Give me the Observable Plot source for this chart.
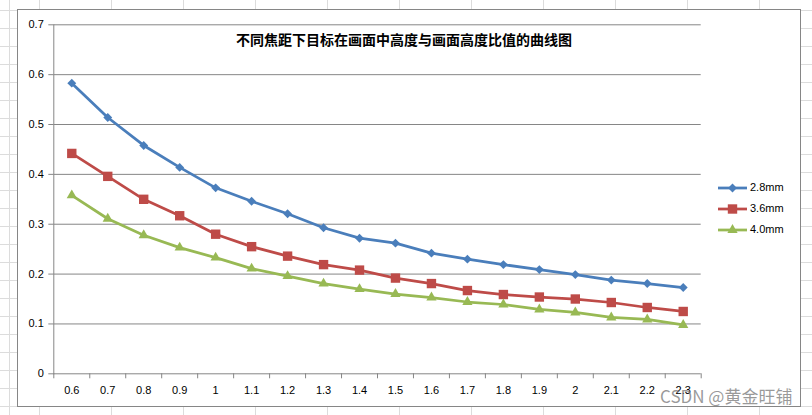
<!DOCTYPE html>
<html><head><meta charset="utf-8">
<script src="https://cdn.jsdelivr.net/npm/d3@7"></script>
<script src="https://cdn.jsdelivr.net/npm/@observablehq/plot@0.6"></script>
<style>
html,body{margin:0;padding:0;}
body{width:812px;height:415px;position:relative;overflow:hidden;background-color:#fff;
background-image:linear-gradient(to right,#dcdcdc 1px,transparent 1px),linear-gradient(to bottom,#dcdcdc 1px,transparent 1px);
background-size:72px 100%,100% 18px;background-position:39px 0,0 10px;}
#vline{position:absolute;left:9px;top:0;width:1px;height:415px;background:#dcdcdc}
#chart{position:absolute;left:17px;top:9px;width:784px;height:398px;box-sizing:border-box;border:1px solid #868686;background:#fff;}
#plot{position:absolute;left:0;top:0}
#title{position:absolute;left:204px;width:400px;top:31px;text-align:center;font:bold 14px/16px "Noto Sans CJK SC",sans-serif;color:#000;}
#legend{position:absolute;left:717px;top:177px;font:11px/21px "Liberation Sans",Arial,sans-serif;color:#000}
.lrow{height:21px;display:flex;align-items:center}
.lrow svg{display:block;margin-right:2px}
#wm{position:absolute;left:660px;top:386px;font:17px/20px "Noto Sans CJK SC",sans-serif;color:rgba(120,120,120,0.75);white-space:nowrap}
</style></head>
<body>
<div id="vline"></div>
<div id="chart"><div id="plot"></div></div>
<div id="title">不同焦距下目标在画面中高度与画面高度比值的曲线图</div>
<div id="legend"></div>
<div id="wm">CSDN @黄金旺铺</div>
<script>
const categories = ["0.6","0.7","0.8","0.9","1","1.1","1.2","1.3","1.4","1.5","1.6","1.7","1.8","1.9","2","2.1","2.2","2.3"];
const seriesNames = ["2.8mm","3.6mm","4.0mm"];
const s28 = [0.583,0.514,0.458,0.414,0.373,0.346,0.321,0.293,0.272,0.262,0.242,0.230,0.219,0.209,0.199,0.188,0.181,0.173];
const s36 = [0.442,0.396,0.350,0.317,0.280,0.255,0.236,0.219,0.208,0.192,0.181,0.167,0.159,0.154,0.150,0.143,0.133,0.125];
const s40 = [0.358,0.311,0.278,0.253,0.233,0.211,0.196,0.181,0.170,0.160,0.153,0.144,0.139,0.129,0.123,0.113,0.109,0.098];
const yTicks = [0,0.1,0.2,0.3,0.4,0.5,0.6,0.7];

const seriesValues = [s28, s36, s40];
const colors = ["#4A7EBB","#BE4B48","#98B954"];
const symbols = ["diamond2","square","triangle"];
const radii = [4, 5.3, 3.8];
const n = categories.length;
const idx = d3.range(n);
const boundaries = d3.range(n + 1).map(i => i - 0.5);

const W = 782, H = 396;
const marks = [
  Plot.gridY(yTicks, {stroke: "#868686", strokeOpacity: 1}),
  Plot.frame({anchor: "left", stroke: "#868686"}),
  Plot.axisY({ticks: yTicks, tickSize: 5, tickPadding: 5, stroke: "#868686", fill: "#000", label: null, tickFormat: d => String(d)}),
  Plot.axisX({ticks: boundaries, tickSize: 5, stroke: "#868686", label: null, tickFormat: () => ""}),
  Plot.axisX({ticks: idx, tickSize: 0, tickPadding: 12, fill: "#000", label: null, tickFormat: i => categories[i]})
];
seriesValues.forEach((vals, k) => {
  const data = vals.map((v, i) => ({i, v, name: seriesNames[k]}));
  marks.push(Plot.line(data, {x: "i", y: "v", stroke: colors[k], strokeWidth: 2.75, strokeLinejoin: "round", strokeLinecap: "round"}));
  marks.push(Plot.dot(data, {x: "i", y: "v", symbol: symbols[k], r: radii[k], fill: colors[k], stroke: "none"}));
});

const chart = Plot.plot({
  width: W, height: H,
  marginLeft: 35.3, marginRight: 99.3, marginTop: 14.3, marginBottom: 32.7,
  x: {type: "linear", domain: [-0.5, n - 0.5]},
  y: {domain: [0, 0.7]},
  style: {fontFamily: "'Liberation Sans', Arial, sans-serif", fontSize: "11px", color: "#000", background: "transparent"},
  marks
});
document.getElementById("plot").appendChild(chart);

// legend
const leg = d3.select("#legend");
const symMap = {diamond2: d3.symbolDiamond2, square: d3.symbolSquare, triangle: d3.symbolTriangle};
seriesNames.forEach((name, k) => {
  const row = leg.append("div").attr("class", "lrow");
  const svg = row.append("svg").attr("width", 31).attr("height", 12);
  svg.append("line").attr("x1", 1).attr("x2", 30).attr("y1", 6).attr("y2", 6)
    .attr("stroke", colors[k]).attr("stroke-width", 2.75);
  svg.append("path").attr("transform", "translate(15.5,6)")
    .attr("d", d3.symbol(symMap[symbols[k]], radii[k] * radii[k] * Math.PI)()).attr("fill", colors[k]);
  row.append("span").text(name);
});
</script>
</body></html>
